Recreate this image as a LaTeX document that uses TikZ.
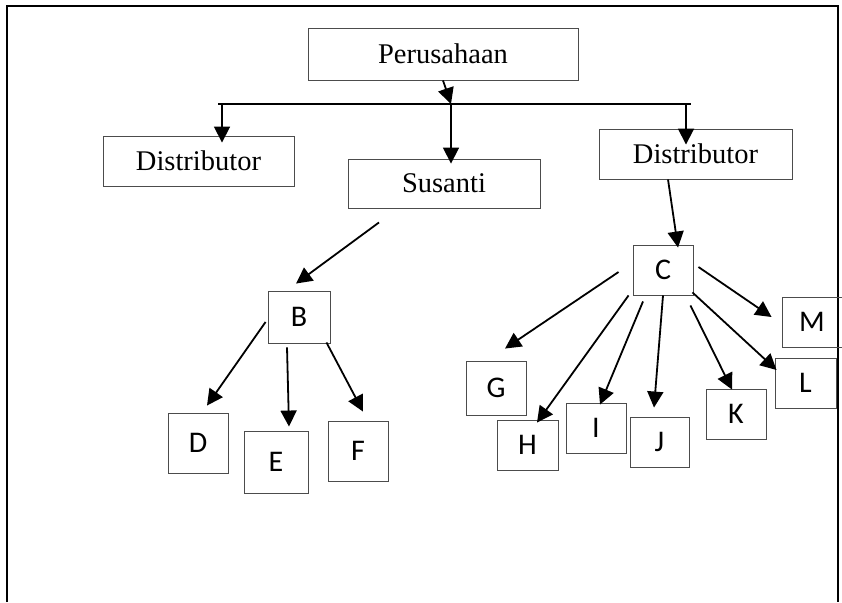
\documentclass[tikz,border=0pt]{standalone}
\usepackage{fontspec}
\setmainfont{Liberation Serif}
\newfontfamily\letterfont{Carlito}
\usetikzlibrary{arrows.meta,calc}

\tikzset{
  namebox/.style={draw=black!70, line width=0.9pt, minimum width=#1,
    minimum height=50pt, inner sep=0pt, font=\fontsize{28.5}{30}\selectfont},
  letterbox/.style={draw=black!70, line width=0.9pt, minimum width=60pt,
    minimum height=50pt, inner sep=0pt, font=\letterfont\fontsize{30}{32}\selectfont},
  arr/.style={line width=1.8pt, -{Triangle[length=16pt,width=16pt]}}
}

\begin{document}
\begin{tikzpicture}[x=1pt,y=-1pt]
  \useasboundingbox (0,0) rectangle (842,602);
  % page frame (open at the bottom)
  \draw[line width=2.5pt] (7,602) -- (7,6) -- (838,6) -- (838,602);

  % top level
  \node[namebox=270pt, minimum height=52pt] (per) at (443,54) {Perusahaan};
  \coordinate (barL) at (218,104);
  \coordinate (barR) at (691,104);
  \coordinate (barM) at (451,104);
  \draw[line width=2.2pt] (barL) -- (barR);

  % second level
  \node[namebox=191pt] (dist1) at (198.5,161) {Distributor};
  \node[namebox=192pt, minimum height=49pt] (sus) at (444,183.5) {Susanti};
  \node[namebox=193pt] (dist2) at (695.5,154) {Distributor};

  % left branch
  \node[letterbox, minimum width=62pt, minimum height=52pt] (b) at (299,317) {B};
  \node[letterbox, minimum height=60pt] (d) at (198,443) {D};
  \node[letterbox, minimum width=64pt, minimum height=62pt] (e) at (276,462) {E};
  \node[letterbox, minimum height=60pt] (f) at (358,451) {F};

  % right branch
  \node[letterbox] (c) at (663,270) {C};
  \node[letterbox, minimum height=54pt] (g) at (496,388) {G};
  \node[letterbox, minimum width=61pt] (h) at (527.5,445) {H};
  \node[letterbox] (i) at (596,428) {I};
  \node[letterbox, minimum width=59pt] (j) at (659.5,442) {J};
  \node[letterbox] (k) at (736,414) {K};
  \node[letterbox, minimum width=61pt] (l) at (805.5,383) {L};
  \node[letterbox] (m) at (812,322) {M};

  % arrows
  \draw[arr] (per.south) -- (barM);
  \draw[arr] (barM) -- ($(sus.north)+(7,5)$);
  \draw[arr] ($(barL)+(4,0)$) -- ($(dist1.north)+(23.5,7)$);
  \draw[arr] ($(barR)+(-5,0)$) -- ($(dist2.north)+(-9.5,16)$);

  \draw[arr] ($(sus.south)+(-65,14)$) -- ($(b.north)+(-3,-7)$);
  \draw[arr] ($(b.west)+(-2,5)$) -- ($(d.north)+(9,-7)$);
  \draw[arr] ($(b.south)+(-12,4)$) -- ($(e.north)+(13,-4)$);
  \draw[arr] ($(b.south east)+(-4,-1)$) -- ($(f.north)+(5,-9)$);

  \draw[arr] ($(dist2.south)+(-27.5,0)$) -- ($(c.north)+(15,3)$);
  \draw[arr] ($(c.west)+(-14,2)$) -- ($(g.north)+(9,-12)$);
  \draw[arr] ($(c.south west)+(-4,0)$) -- ($(h.north)+(9.5,3)$);
  \draw[arr] ($(c.south)+(-20,6)$) -- ($(i.north)+(4,2)$);
  \draw[arr] (c.south) -- ($(j.north)+(-5.5,-9)$);
  \draw[arr] ($(c.south east)+(-3,10)$) -- ($(k.north)+(-4,1)$);
  \draw[arr] ($(c.south east)+(-1,-3)$) -- ($(l.west)+(2,-13)$);
  \draw[arr] ($(c.east)+(5,-3)$) -- ($(m.west)+(-10,-5)$);
\end{tikzpicture}
\end{document}
